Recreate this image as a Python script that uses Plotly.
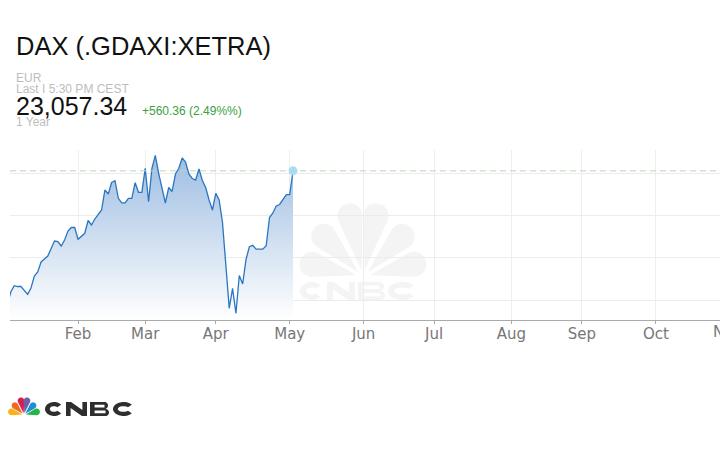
import math
import pandas as pd
import plotly.graph_objects as go

# ---------------- data ----------------
start_date = "2025-01-03"
end_date = "2025-05-02"
dax_close = [
    19913, 20196, 20345, 20326, 20326, 20231, 20142, 20291, 20574, 20668,
    20905, 20975, 21046, 21224, 21401, 21384, 21283, 21424, 21637, 21720,
    21720, 21441, 21519, 21583, 21885, 21779, 21920, 22027, 22133, 22605,
    22511, 22782, 22825, 22409, 22299, 22299, 22409, 22409, 22778, 22551,
    22551, 23118, 22329, 23118, 23425, 23000, 22676, 22298, 22664, 22570,
    22983, 23118, 23361, 23267, 22983, 22877, 22841, 23101, 22830, 22664,
    22369, 22133, 22527, 22369, 21838, 20763, 19811, 20283, 19693, 20586,
    20385, 20964, 21266, 21299, 21207, 21207, 21207, 21287, 21956, 22062,
    22227, 22263, 22369, 22497, 22497, 23057.34,
]
dates = pd.bdate_range(start_date, end_date)

month_ticks = ["2025-02-03", "2025-03-03", "2025-04-01", "2025-05-01", "2025-06-02",
               "2025-07-01", "2025-08-01", "2025-09-01", "2025-10-01"]
month_labels = ["Feb", "Mar", "Apr", "May", "Jun", "Jul", "Aug", "Sep", "Oct"]
y_grid = [20000, 21000, 22000, 23000]

title = "DAX (.GDAXI:XETRA)"
currency = "EUR"
last_time = "Last I 5:30 PM CEST"
last_price = "23,057.34"
change_text = "+560.36 (2.49%%)"
period = "1 Year"

# ---------------- layout geometry ----------------
W, H = 720, 450
L_, R_, T_, B_ = 10, 0, 150, 130
PW, PH = W - L_ - R_, H - T_ - B_


def pp(x, y):
    return ((x - L_) / PW, (H - B_ - y) / PH)


def to_path(polys):
    out = []
    for pts in polys:
        conv = [pp(X, Y) for X, Y in pts]
        out.append("M " + " L ".join(f"{X:.5f},{Y:.5f}" for X, Y in conv) + " Z")
    return " ".join(out)


def petal(cx, cy, ang, base, length, r, n=28):
    a = math.radians(ang)
    ux, uy = math.cos(a), math.sin(a)
    px_, py_ = cx + ux * base, cy - uy * base
    d = length - r
    qx, qy = px_ + ux * d, py_ - uy * d
    beta = math.acos(r / d)
    th0 = a + math.pi
    pts = [(px_, py_)]
    for k in range(n + 1):
        t = th0 + beta + (2 * math.pi - 2 * beta) * k / n
        pts.append((qx + r * math.cos(t), qy - r * math.sin(t)))
    return to_path([pts])


def ring_arc(cx, cy, rxo, ryo, rxi, ryi, a0, a1, n=40):
    pts = []
    for k in range(n + 1):
        t = math.radians(a0 + (a1 - a0) * k / n)
        pts.append((cx + rxo * math.cos(t), cy - ryo * math.sin(t)))
    for k in range(n + 1):
        t = math.radians(a1 - (a1 - a0) * k / n)
        pts.append((cx + rxi * math.cos(t), cy - ryi * math.sin(t)))
    return pts


def letter_C(x0, x1, y0, y1, s):
    cx, cy = (x0 + x1) / 2, (y0 + y1) / 2
    rx, ry = (x1 - x0) / 2, (y1 - y0) / 2
    return [ring_arc(cx, cy, rx, ry, rx - s * 1.05, ry - s * 0.9, 38, 322)]


def letter_N(x0, x1, y0, y1, s):
    return [[(x0, y1), (x0, y0), (x0 + s * 1.1, y0), (x1 - s, y1 - (y1 - y0) * 0.42),
             (x1 - s, y0), (x1, y0), (x1, y1), (x1 - s * 1.1, y1),
             (x0 + s, y0 + (y1 - y0) * 0.42), (x0 + s, y1)]]


def letter_B(x0, x1, y0, y1, s, n=12):
    ym = (y0 + y1) / 2
    rt = (ym - y0) / 2
    rb = (y1 - ym) / 2
    outer = [(x0, y1), (x0, y0), (x1 - rt - 1, y0)]
    for k in range(n + 1):
        t = math.radians(90 - 180 * k / n)
        outer.append((x1 - rt - 1 + rt * math.cos(t), y0 + rt - rt * math.sin(t)))
    for k in range(n + 1):
        t = math.radians(90 - 180 * k / n)
        outer.append((x1 - rb + rb * math.cos(t), ym + rb - rb * math.sin(t)))
    hi = s * 0.6
    hole1 = [(x0 + s, y0 + hi), (x0 + s, ym - hi * 0.55), (x1 - rt - 1, ym - hi * 0.55), (x1 - rt - 1, y0 + hi)]
    hole2 = [(x0 + s, ym + hi * 0.55), (x0 + s, y1 - hi), (x1 - rb, y1 - hi), (x1 - rb, ym + hi * 0.55)]
    return [outer, hole1, hole2]


def cnbc_shapes(boxes, y0, y1, s, color, layer):
    res = []
    makers = [letter_C, letter_N, letter_B, letter_C]
    for mk, (a, b) in zip(makers, boxes):
        res.append(dict(type="path", xref="paper", yref="paper", path=to_path(mk(a, b, y0, y1, s)),
                        fillcolor=color, line=dict(width=0), layer=layer))
    return res


fig = go.Figure()

fig.add_trace(go.Scatter(
    x=dates, y=dax_close, mode="lines",
    line=dict(color="#2a76c0", width=1.3),
    fill="tozeroy",
    fillgradient=dict(type="vertical",
                      colorscale=[[0, "rgba(255,255,255,1)"], [1, "#9dbde2"]],
                      start=19535, stop=23450),
    hoverinfo="skip", showlegend=False,
))
fig.add_trace(go.Scatter(
    x=[dates[-1]], y=[dax_close[-1]], mode="markers",
    marker=dict(size=9, color="#a8dcf7"),
    hoverinfo="skip", showlegend=False,
))

shapes = []
# last price dashed line
shapes.append(dict(type="line", xref="paper", yref="y", x0=0, x1=1,
                   y0=dax_close[-1], y1=dax_close[-1],
                   line=dict(color="#b7dcb2", width=1, dash="6px,4px"), layer="above"))

# watermark peacock
wm_angles = [166, 134, 102, 78, 46, 14]
for ang in wm_angles:
    ln = 68 if ang in (102, 78) else (62 if ang in (134, 46) else 58)
    shapes.append(dict(type="path", xref="paper", yref="paper",
                       path=petal(363, 277, ang, 7, ln, 12.5),
                       fillcolor="#f4f4f4", line=dict(width=0), layer="below"))
# watermark CNBC
shapes += cnbc_shapes([(300, 323), (327, 355), (358, 385), (388, 417)], 282, 300, 6, "#f4f4f4", "below")

# logo peacock
logo_colors = ["#f9b21b", "#ef6b22", "#d41f4f", "#6d5ea8", "#1e8fd4", "#27b34b"]
logo_angles = [166, 134, 102, 78, 46, 14]
for ang, col in zip(logo_angles, logo_colors):
    ln = 16 if ang in (102, 78) else 14.5
    shapes.append(dict(type="path", xref="paper", yref="paper",
                       path=petal(24, 415, ang, 1.8, ln, 3.3),
                       fillcolor=col, line=dict(width=0), layer="above"))
# logo CNBC
shapes += cnbc_shapes([(45, 63), (66, 87), (90, 109), (113, 134)], 402, 416, 4.6, "#2e2e2e", "above")

ann = []


def txt(x, y, s, size, color, family="Liberation Sans, Arial, sans-serif", anchor="left"):
    xp, yp = pp(x, y)
    ann.append(dict(x=xp, y=yp, xref="paper", yref="paper", text=s, showarrow=False,
                    xanchor=anchor, yanchor="middle",
                    font=dict(size=size, color=color, family=family), borderpad=0))


txt(15, 45.5, title, 25.5, "#111111")
txt(15, 77.5, currency, 12, "#bdbdbd")
txt(15, 89, last_time, 12, "#bdbdbd")
txt(15, 106, last_price, 25, "#111111")
txt(141, 111.2, change_text, 12, "#3aa03f")
txt(15, 121.7, period, 12, "#bdbdbd")

# Nov label partly visible at right edge
txt(727, 332, "Nov", 15, "#777777", family="DejaVu Sans, sans-serif", anchor="center")

fig.update_layout(
    width=W, height=H,
    margin=dict(l=L_, r=R_, t=T_, b=B_),
    paper_bgcolor="white", plot_bgcolor="white",
    shapes=shapes, annotations=ann,
    showlegend=False,
    xaxis=dict(
        type="date",
        range=["2025-01-03 18:00", "2025-10-28 02:00"],
        rangebreaks=[dict(bounds=["sat", "mon"])],
        tickvals=month_ticks, ticktext=month_labels,
        showgrid=True, gridcolor="#eeeeee", gridwidth=1,
        showline=True, linecolor="#aaaaaa", linewidth=1,
        ticks="outside", ticklen=3, tickcolor="#aaaaaa",
        ticklabelstandoff=-3,
        tickfont=dict(family="DejaVu Sans, sans-serif", size=15, color="#777777"),
        zeroline=False, fixedrange=True,
    ),
    yaxis=dict(
        range=[19535, 23550],
        tickvals=y_grid, showticklabels=False,
        showgrid=True, gridcolor="#ececec", gridwidth=1,
        zeroline=False, showline=False, ticks="", fixedrange=True,
    ),
)

fig.write_html("out.html", config={"displayModeBar": False},
               post_script="document.body.style.margin='0';document.body.style.overflow='hidden';")
